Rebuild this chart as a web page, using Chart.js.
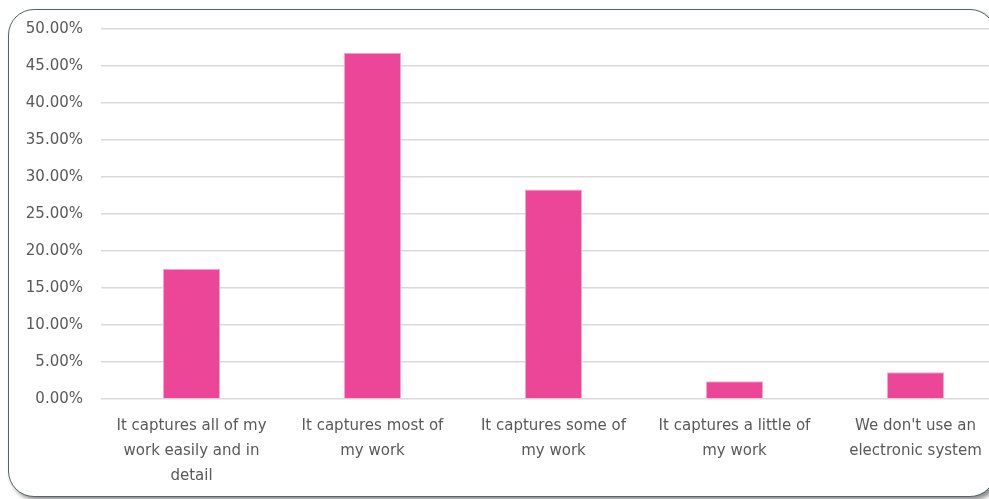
<!DOCTYPE html>
<html lang="en">
<head>
    <meta charset="UTF-8">
    <title>Electronic system coverage</title>
    <script src="https://cdn.jsdelivr.net/npm/chart.js"></script>
    <style>
        html, body {
            margin: 0;
            padding: 0;
            width: 989px;
            height: 499px;
            overflow: hidden;
            background: #ffffff;
        }

        .card {
            position: absolute;
            left: 8px;
            top: 9px;
            width: 986px;
            height: 486px;
            border: 1.5px solid #56636a;
            border-radius: 26px;
            box-shadow: 3px 3px 4px rgba(0, 0, 0, 0.45);
            background: #ffffff;
        }

        .chart-box {
            position: absolute;
            left: 0;
            top: 0;
            width: 1010px;
            height: 499px;
        }
    </style>
</head>
<body>
    <div class="card"></div>
    <div class="chart-box">
        <canvas id="coverageChart"></canvas>
    </div>

    <script>
        // values (percent of respondents)
        const categories = [
            ['It captures all of my', 'work easily and in', 'detail'],
            ['It captures most of', 'my work'],
            ['It captures some of', 'my work'],
            ['It captures a little of', 'my work'],
            ["We don't use an", 'electronic system']
        ];
        const shares = [17.6, 46.8, 28.3, 2.4, 3.6];
        const yMax = 50;
        const yStep = 5;

        const textColor = '#595959';
        const gridColor = '#d9d9d9';

        Chart.defaults.font.family = '"DejaVu Sans", sans-serif';
        Chart.defaults.font.size = 15;
        Chart.defaults.color = textColor;

        const ctx = document.getElementById('coverageChart').getContext('2d');

        new Chart(ctx, {
            type: 'bar',
            data: {
                labels: categories,
                datasets: [{
                    data: shares,
                    backgroundColor: '#ec4699',
                    borderColor: '#f6a6cb',
                    borderWidth: 1,
                    categoryPercentage: 1,
                    barPercentage: 0.315
                }]
            },
            options: {
                responsive: true,
                maintainAspectRatio: false,
                animation: false,
                layout: {
                    padding: { top: 29, right: 4, bottom: 0, left: 0 }
                },
                scales: {
                    y: {
                        min: 0,
                        max: yMax,
                        border: { display: false },
                        grid: {
                            color: gridColor,
                            lineWidth: 1.5,
                            drawTicks: false
                        },
                        ticks: {
                            stepSize: yStep,
                            padding: 18,
                            color: textColor,
                            callback: v => v.toFixed(2) + '%'
                        },
                        afterFit: scale => { scale.width = 101; }
                    },
                    x: {
                        border: { display: false },
                        grid: { display: false, drawTicks: false },
                        ticks: {
                            padding: 15,
                            color: textColor,
                            font: { size: 15, lineHeight: 1.65 },
                            maxRotation: 0,
                            autoSkip: false
                        },
                        afterFit: scale => { scale.height = 100; }
                    }
                },
                plugins: {
                    legend: { display: false },
                    tooltip: { enabled: false }
                }
            }
        });
    </script>
</body>
</html>
